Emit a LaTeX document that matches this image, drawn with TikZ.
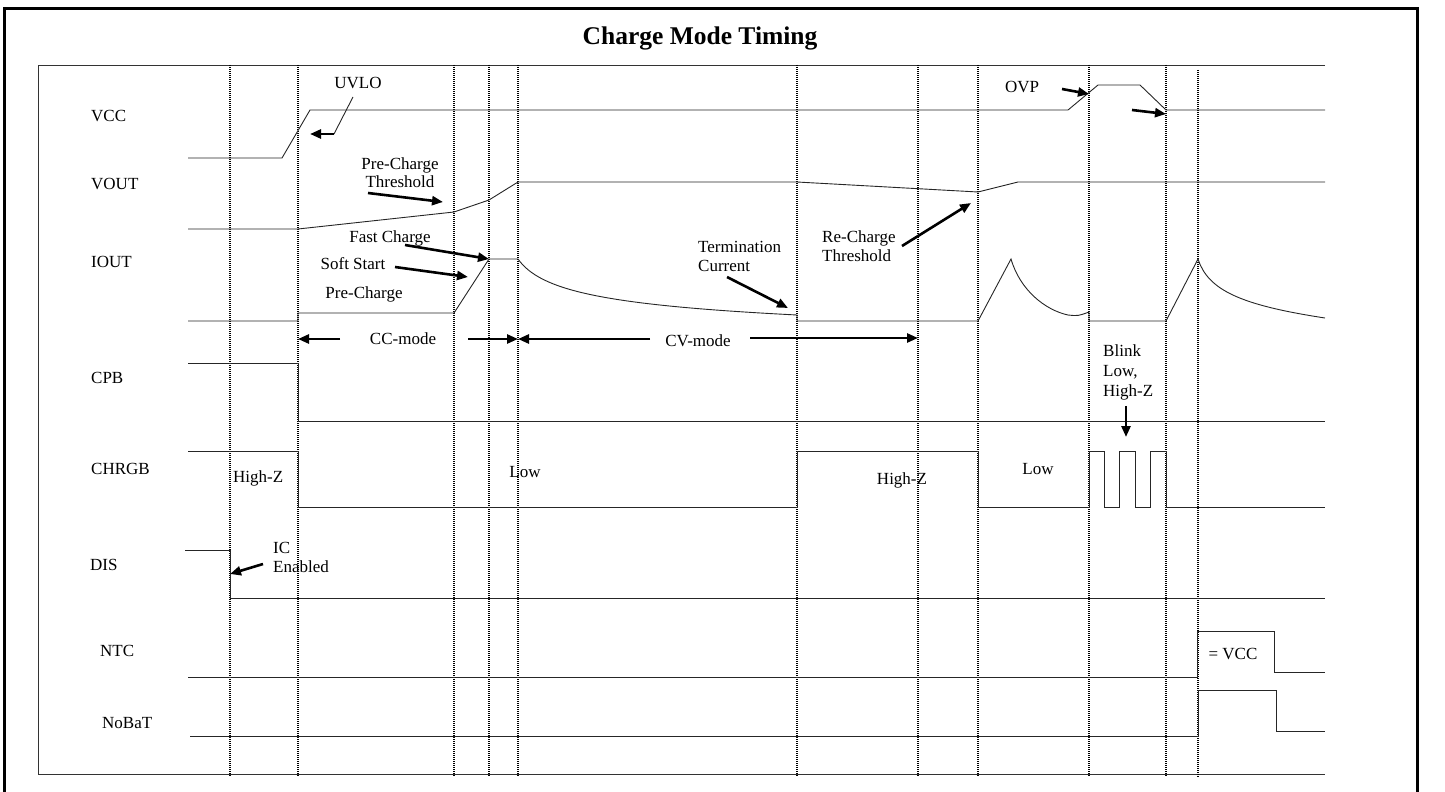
\documentclass[tikz,border=0pt]{standalone}
\usepackage{fontspec}
\setmainfont{Liberation Serif}
\usetikzlibrary{arrows.meta,calc}

\begin{document}
\begin{tikzpicture}[x=1pt,y=-1pt,
  font=\fontsize{17}{18}\selectfont,
  sig/.style={line width=0.9pt,black!85},
  tline/.style={line width=1.8pt,dash pattern=on 1pt off 1pt},
  callout/.style={line width=2.6pt,-{Triangle[length=11pt,width=9pt]}},
  lbl/.style={inner sep=0pt},
  signame/.style={anchor=west,inner sep=0pt}]
\useasboundingbox (0,0) rectangle (1445,792);
\draw[line width=3pt] (4,800) -- (4,9) -- (1417,9) -- (1417,800);
\draw[line width=0.9pt,black!80] (1325,65) -- (38,65) -- (38,774) -- (1325,774);
\node[lbl] (title) at (700,38) {\fontsize{25.5}{28}\selectfont\bfseries Charge Mode Timing};

\foreach \x in {230,298,454,489,518,797,918,978,1089,1166}
  \draw[tline] (\x,65) -- (\x,777);
\draw[tline] (1198,70) -- (1198,778);

\node[signame] (vcc) at (91,116) {VCC};
\node[signame] (vout) at (91,184) {VOUT};
\node[signame] (iout) at (91,262) {IOUT};
\node[signame] (cpb) at (91,378) {CPB};
\node[signame] (chrgb) at (91,469) {CHRGB};
\node[signame] (dis) at (90,565) {DIS};
\node[signame] (ntc) at (100,651) {NTC};
\node[signame] (nobat) at (102,723) {NoBaT};

\draw[sig] (188,158) -- (282,158) -- (310,110) -- (1068,110) -- (1098,85) -- (1140,85) -- (1166,110) -- (1325,110);
\draw[sig] (188,229) -- (298,229) -- (454,212) -- (489,200) -- (518,182) -- (797,182) -- (978,192) -- (1018,182) -- (1325,182);
\draw[sig] (188,321) -- (298,321) -- (298,313) -- (454,313) -- (489,259) -- (518,259)
  .. controls (540,290) and (600,305) .. (797,315) -- (797,321) -- (978,321) -- (1011,259)
  .. controls (1020,290) and (1045,310) .. (1068,315) .. controls (1078,316) .. (1089,312)
  -- (1089,321) -- (1166,321) -- (1198,259) .. controls (1208,290) and (1240,305) .. (1325,318);
\draw[sig] (188,363) -- (298,363) -- (298,421) -- (1325,421);
\draw[sig] (188,451) -- (298,451) -- (298,507) -- (797,507) -- (797,451) -- (978,451) -- (978,507)
  -- (1089,507) -- (1089,451) -- (1104,451) -- (1104,507) -- (1119,507) -- (1119,451) -- (1135,451)
  -- (1135,507) -- (1150,507) -- (1150,451) -- (1166,451) -- (1166,507) -- (1325,507);
\draw[sig] (185,550) -- (230,550) -- (230,598) -- (1325,598);
\draw[sig] (188,677) -- (1197,677) -- (1197,631) -- (1274,631) -- (1274,672) -- (1325,672);
\draw[sig] (190,736) -- (1198,736) -- (1198,690) -- (1276,690) -- (1276,731) -- (1325,731);

\node[lbl] (uvlo) at (358,83) {UVLO};
\node[lbl,align=center] (pcthr) at (400,173) {Pre-Charge\\Threshold};
\node[lbl] (fast) at (390,238) {Fast Charge};
\node[lbl] (soft) at (353,264) {Soft Start};
\node[lbl] (prechg) at (364,294) {Pre-Charge};
\node[lbl] (ccmode) at (403,339) {CC-mode};
\node[lbl] (cvmode) at (698,341) {CV-mode};
\node[lbl,anchor=west,align=left,font=\fontsize{17}{19}\selectfont] (term) at (698,256) {Termination\\Current};
\node[lbl,anchor=west,align=left,font=\fontsize{17}{19}\selectfont] (rechg) at (822,246) {Re-Charge\\Threshold};
\node[lbl] (ovp) at (1022,87) {OVP};
\node[lbl,anchor=west] (hiz1) at (233,478) {High-Z};
\node[lbl] (low1) at (525,472) {Low};
\node[lbl] (hiz2) at (902,480) {High-Z};
\node[lbl] (low2) at (1038,469) {Low};
\node[lbl,anchor=west,align=left,font=\fontsize{17}{20}\selectfont] (blink) at (1103,372) {Blink\\Low,\\High-Z};
\node[lbl,anchor=west,align=left,font=\fontsize{17}{19}\selectfont] (icen) at (273,557) {IC\\Enabled};
\node[lbl] (eqvcc) at (1233,654) {= VCC};

\coordinate (uvlo bend) at (334,134);
\coordinate (uvlo tip) at (310,134);
\draw[sig] ($(uvlo.south)+(-5,8)$) -- (uvlo bend);
\draw[callout] (uvlo bend) -- (uvlo tip);
\draw[callout] (368,193) -- (443,202);
\draw[callout] (405,245) -- (489,259);
\draw[callout] (395,267) -- (468,277);
\draw[callout] (340,339) -- (298,339);
\draw[callout] (468,339) -- (518,339);
\draw[callout] (650,339) -- (518,339);
\draw[callout] (750,338) -- (918,338);
\draw[callout] (727,277) -- (788,308);
\draw[callout] (902,246) -- (971,203);
\draw[callout] (1062,89) -- (1089,94);
\draw[callout] (1132,110) -- (1166,114);
\draw[callout] (blink.south -| 1126,0) ++(0,6) -- (1126,437);
\draw[callout] (263,564) -- (230,574);
\end{tikzpicture}
\end{document}
